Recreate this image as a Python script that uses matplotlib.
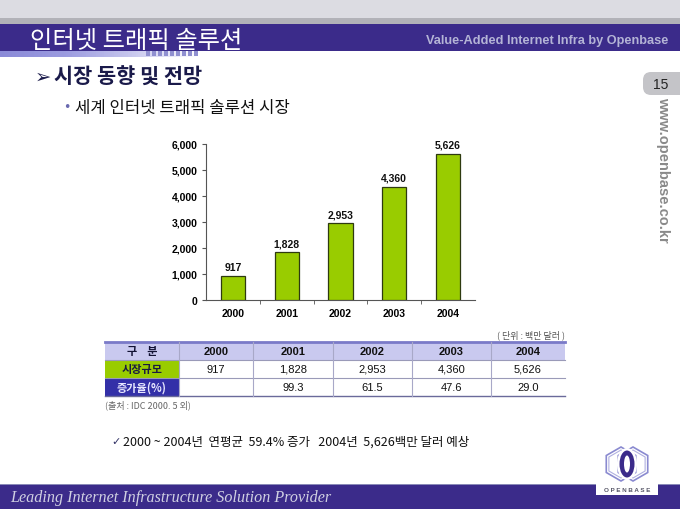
import matplotlib
matplotlib.use("Agg")
import matplotlib.pyplot as plt
from matplotlib.patches import Rectangle, FancyBboxPatch, Ellipse, RegularPolygon
import numpy as np

# ---------------- data ----------------
years = ["2000", "2001", "2002", "2003", "2004"]
market = [917, 1828, 2953, 4360, 5626]
growth = ["", "99.3", "61.5", "47.6", "29.0"]
yticks = [0, 1000, 2000, 3000, 4000, 5000, 6000]

title = "인터넷 트래픽 솔루션"
subtitle = "Value-Added Internet Infra by Openbase"
heading = "시장 동향 및 전망"
bullet = "세계 인터넷 트래픽 솔루션 시장"
unit_note = "( 단위 : 백만 달러 )"
source_note = "(출처 : IDC 2000. 5 외)"
summary = "2000 ~ 2004년  연평균  59.4% 증가   2004년  5,626백만 달러 예상"
footer = "Leading Internet Infrastructure Solution Provider"
row_head = "구    분"
row1_label = "시장규모"
row2_label = "증가율(%)"

KR = ["Noto Sans CJK KR", "DejaVu Sans"]
NUM = ["Liberation Sans", "DejaVu Sans"]
PURPLE = "#3b2b8a"
GREEN = "#99cc00"

W, H = 680, 510
fig = plt.figure(figsize=(W / 100, H / 100), dpi=100)
bg = fig.add_axes([0, 0, 1, 1])
bg.set_xlim(0, W)
bg.set_ylim(H, 0)
bg.axis("off")

# ---------------- header ----------------
bg.add_patch(Rectangle((0, 0), W, 19, color="#dcdce2", lw=0))
bg.add_patch(Rectangle((0, 19), W, 6, color="#b2b2b8", lw=0))
bg.add_patch(Rectangle((0, 25), W, 27, color=PURPLE, lw=0))
grad = np.linspace(0, 1, 100).reshape(1, -1)
bg.imshow(grad, extent=(0, 200, 58, 52), cmap=matplotlib.colors.LinearSegmentedColormap.from_list(
    "g", ["#8a8ad8", "#9c9ce0", "#c8c8ee", "#ffffff"]), aspect="auto", zorder=1)
for i in range(9):
    bg.add_patch(Rectangle((146 + i * 6, 52), 3.5, 5, color="#9090d0", lw=0, zorder=2))

bg.text(30, 40.5, title, family=KR, fontsize=17.5, color="white", va="center", ha="left")
bg.text(668, 41, subtitle, family=["Liberation Sans Narrow", "Liberation Sans"],
        fontsize=9.2, fontweight="bold", color="#b4b4d6", va="center", ha="right")

# heading
bg.text(35, 77, "➢", family=["DejaVu Sans"], fontsize=14, color="#1a1a4a", va="center", ha="left")
bg.text(54, 77, heading, family=KR, fontsize=15, fontweight="bold", color="#1a1a4a",
        va="center", ha="left")
bg.text(63, 108, "•", family=["DejaVu Sans"], fontsize=9, color="#6a6ab0", va="center", ha="left")
bg.text(75, 108, bullet, family=KR, fontsize=12, color="#111111", va="center", ha="left")

# page tab
bg.add_patch(FancyBboxPatch((643, 73), 50, 23, boxstyle="round,pad=0,rounding_size=8",
                            facecolor="#c4c4c8", edgecolor="none"))
bg.text(661, 85, "15", family=NUM, fontsize=10, color="#222222", va="center", ha="center")
bg.text(663, 170, "www.openbase.co.kr", family=NUM, fontsize=10.5, fontweight="bold",
        color="#8a8a8a", va="center", ha="center", rotation=-90)

# ---------------- bar chart ----------------
ax_l, ax_r, ax_t, ax_b = 206, 475, 145, 301
ax = fig.add_axes([ax_l / W, (H - ax_b) / H, (ax_r - ax_l) / W, (ax_b - ax_t) / H])
x = np.arange(len(years))
ax.bar(x, market, width=0.45, color=GREEN, edgecolor="#2e3a10", linewidth=0.9, zorder=3)
for xi, v in zip(x, market):
    ax.annotate(f"{v:,}", (xi, v), xytext=(0, 3), textcoords="offset points",
                ha="center", va="bottom", family=NUM, fontsize=7.5, fontweight="bold",
                color="#111111")
ax.set_xlim(-0.5, len(years) - 0.5)
ax.set_ylim(0, 6000)
ax.set_yticks(yticks)
ax.set_yticklabels([f"{v:,}" for v in yticks], family=NUM, fontsize=7.5, fontweight="bold")
ax.set_xticks(x)
ax.set_xticklabels(years, family=NUM, fontsize=7.5, fontweight="bold")
ax.set_xticks(np.arange(0.5, len(years) - 0.5, 1), minor=True)
ax.tick_params(axis="x", which="major", length=0, pad=6)
ax.tick_params(axis="x", which="minor", length=3, color="#555555", direction="out")
ax.tick_params(axis="y", length=3, color="#555555", pad=3)
for s in ["top", "right"]:
    ax.spines[s].set_visible(False)
for s in ["left", "bottom"]:
    ax.spines[s].set_color("#555555")
    ax.spines[s].set_linewidth(0.8)
ax.patch.set_alpha(0)

# ---------------- table ----------------
col_edges = [105, 179, 253, 333, 412, 491, 565]
row_edges = [343, 361, 379, 397]
bg.add_patch(Rectangle((col_edges[0], row_edges[0]), col_edges[-1] - col_edges[0],
                       row_edges[1] - row_edges[0], color="#c9c9ef", lw=0))
bg.add_patch(Rectangle((col_edges[0], row_edges[1]), col_edges[1] - col_edges[0],
                       row_edges[2] - row_edges[1], color=GREEN, lw=0))
bg.add_patch(Rectangle((col_edges[0], row_edges[2]), col_edges[1] - col_edges[0],
                       row_edges[3] - row_edges[2], color="#3330a8", lw=0))
bg.plot([col_edges[0], col_edges[-1]], [row_edges[0], row_edges[0]], color="#7a7ac8", lw=2)
for y in row_edges[1:3]:
    bg.plot([col_edges[0], col_edges[-1]], [y, y], color="#9a9ab8", lw=0.8)
bg.plot([col_edges[0], col_edges[-1]], [row_edges[3], row_edges[3]], color="#6a6a9a", lw=1.0)
for xe in col_edges[1:-1]:
    bg.plot([xe, xe], [row_edges[0], row_edges[3]], color="#a8a8c8", lw=0.8)

cx = [(col_edges[i] + col_edges[i + 1]) / 2 for i in range(len(col_edges) - 1)]
ry = [(row_edges[i] + row_edges[i + 1]) / 2 for i in range(len(row_edges) - 1)]
bg.text(cx[0], ry[0], row_head, family=KR, fontsize=8, fontweight="bold", color="#111133",
        ha="center", va="center")
bg.text(cx[0], ry[1], row1_label, family=KR, fontsize=8, fontweight="bold", color="#1a1a40",
        ha="center", va="center")
bg.text(cx[0], ry[2], row2_label, family=KR, fontsize=8, fontweight="bold", color="#e8e8ff",
        ha="center", va="center")
for i, yr in enumerate(years):
    bg.text(cx[i + 1], ry[0], yr, family=NUM, fontsize=8, fontweight="bold", color="#111111",
            ha="center", va="center")
    bg.text(cx[i + 1], ry[1], f"{market[i]:,}", family=NUM, fontsize=8, color="#111111",
            ha="center", va="center")
    bg.text(cx[i + 1], ry[2], growth[i], family=NUM, fontsize=8, color="#111111",
            ha="center", va="center")

bg.text(565, 335, unit_note, family=KR, fontsize=6.5, color="#555555", ha="right", va="center")
bg.text(105, 405, source_note, family=KR, fontsize=6.5, color="#666666", ha="left", va="center")
bg.text(111, 442, "✓", family=["DejaVu Sans"], fontsize=8, color="#333366", ha="left", va="center")
bg.text(123, 442, summary, family=KR, fontsize=9, color="#111111", ha="left", va="center")

# ---------------- footer ----------------
bg.add_patch(Rectangle((0, 486), W, 24, color=PURPLE, lw=0))
bg.add_patch(Rectangle((0, 485), W, 1.2, color="#8a8ab8", lw=0))
bg.text(10, 498, footer, family=["Liberation Serif", "DejaVu Serif"], style="italic",
        fontsize=11.6, color="#d0d0e2", ha="left", va="center")

# logo
bg.add_patch(Rectangle((596, 485), 62, 11, color="white", lw=0, zorder=3))
for dx in (-6, 6):
    bg.add_patch(RegularPolygon((627 + dx, 465), 6, radius=17, orientation=0,
                                facecolor="none", edgecolor="#8a8ad0", lw=1.2, zorder=3))
    bg.add_patch(RegularPolygon((627 + dx, 465), 6, radius=14, orientation=0,
                                facecolor="none", edgecolor="#b0b0e0", lw=0.8, zorder=3))
bg.add_patch(Ellipse((627, 465), 20, 32, facecolor="white", edgecolor="none", zorder=4))
bg.add_patch(Ellipse((627, 465), 15, 27, facecolor=PURPLE, edgecolor="none", zorder=5))
bg.add_patch(Ellipse((627, 465), 6, 17, facecolor="white", edgecolor="none", zorder=6))
bg.text(627, 490.5, "O P E N B A S E", family=NUM, fontsize=4.5, fontweight="bold",
        color="#555566", ha="center", va="center", zorder=7)

fig.savefig("out.png", dpi=100)
